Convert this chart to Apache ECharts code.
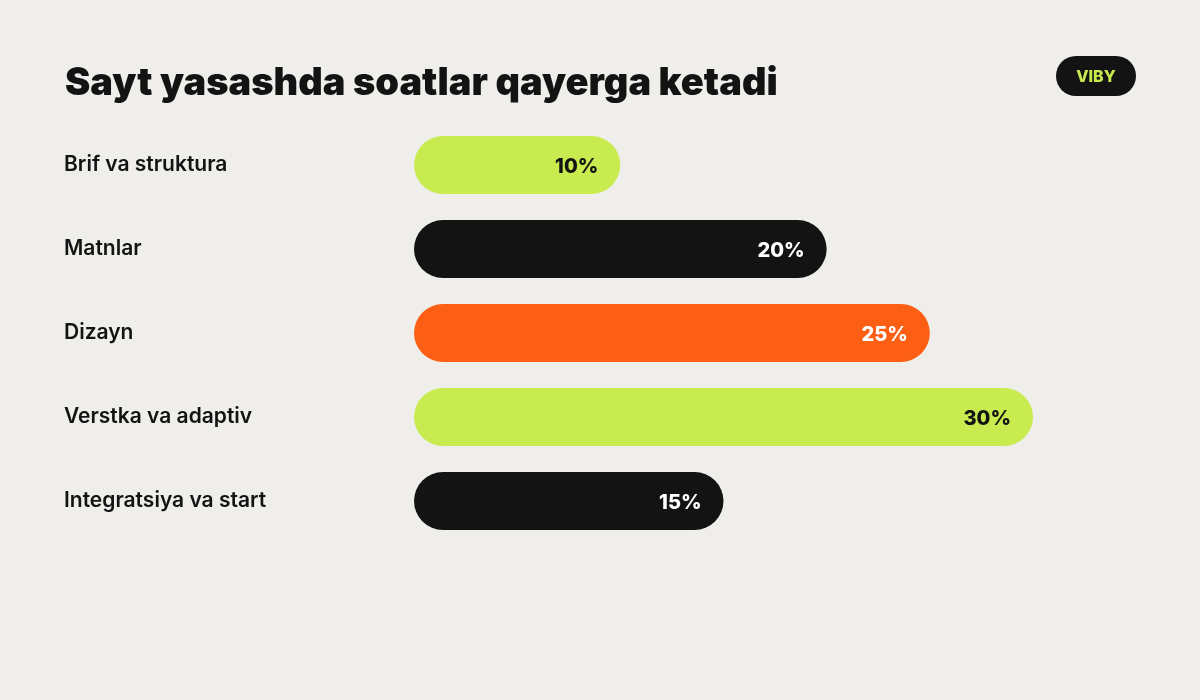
<!DOCTYPE html>
<html>
<head>
<meta charset="utf-8">
<script src="https://cdn.jsdelivr.net/npm/echarts@6/dist/echarts.min.js"></script>
<style>
html,body{margin:0;padding:0;background:#EFEEEA;}
#chart{width:1200px;height:700px;}
</style>
</head>
<body>
<div id="chart"></div>
<script>
const categories = ['Brif va struktura','Matnlar','Dizayn','Verstka va adaptiv','Integratsiya va start'];
const values = [10, 20, 25, 30, 15];
const barColors = ['#C8EB4F', '#131313', '#FC5E14', '#C8EB4F', '#131313'];
const labelColors = ['#131313', '#FFFFFF', '#FFFFFF', '#131313', '#FFFFFF'];
const titleText = 'Sayt yasashda soatlar qayerga ketadi';
const badgeText = 'VIBY';

const chart = echarts.init(document.getElementById('chart'), null, {renderer:'canvas'});
const FONT = 'Inter, "Noto Sans", sans-serif';
chart.setOption({
  backgroundColor: '#EFEEEA',
  animation: false,
  title: {
    text: titleText,
    left: 60, top: 60,
    textStyle: {fontFamily: FONT, fontSize: 38, fontWeight: 900, color: '#131313'}
  },
  grid: {left: 414, top: 123, width: 619, height: 420, containLabel: false},
  xAxis: {type: 'value', min: 0, max: 30, show: false},
  yAxis: {
    type: 'category', data: categories, inverse: true,
    axisLine: {show: false}, axisTick: {show: false}, splitLine: {show: false},
    axisLabel: {
      align: 'left', margin: 350, padding: [6, 0, 0, 0],
      fontFamily: FONT, fontSize: 21, fontWeight: 600, color: '#131313'
    }
  },
  series: [{
    type: 'bar',
    barWidth: 58,
    data: values.map((v, i) => ({
      value: v,
      itemStyle: {color: barColors[i], borderRadius: 29},
      label: {color: labelColors[i]}
    })),
    label: {
      show: true, position: 'insideRight', distance: 22, offset: [0, 2],
      formatter: '{c}%',
      fontFamily: FONT, fontSize: 20, fontWeight: 800
    }
  }],
  graphic: [{
    type: 'group', left: 1056, top: 56,
    children: [
      {type: 'rect', shape: {x: 0, y: 0, width: 80, height: 40, r: 20}, style: {fill: '#131313'}},
      {type: 'text', x: 40, y: 21, style: {text: badgeText, fill: '#C8EB4F', font: '800 16px Inter, sans-serif', align: 'center', verticalAlign: 'middle'}}
    ]
  }]
});
</script>
</body>
</html>
